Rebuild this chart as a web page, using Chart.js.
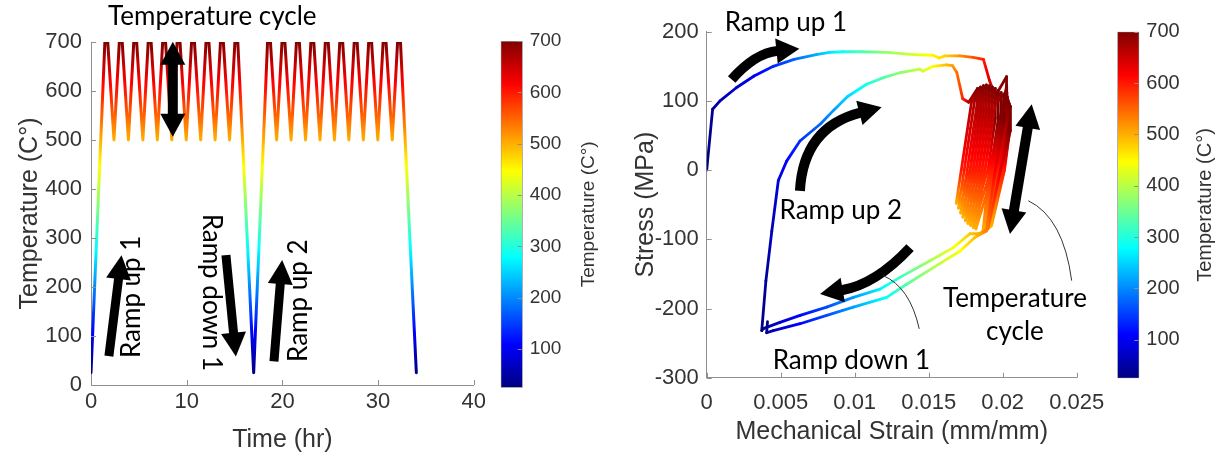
<!DOCTYPE html>
<html><head><meta charset="utf-8">
<script src="https://cdn.jsdelivr.net/npm/chart.js@4.4.1/dist/chart.umd.min.js"></script>
<style>
html,body{margin:0;padding:0;background:#fff;}
#wrap{position:relative;width:1221px;height:457px;overflow:hidden;background:#fff;}
canvas{position:absolute;top:0;}
</style></head><body>
<div id="wrap">
<canvas id="cL" width="490" height="457" style="left:0px"></canvas>
<canvas id="cLC" width="120" height="457" style="left:490px"></canvas>
<canvas id="cR" width="520" height="457" style="left:600px"></canvas>
<canvas id="cRC" width="121" height="457" style="left:1100px"></canvas>
</div>
<script>
// ---------------- data ----------------
const TMIN = 25, TMAX = 700;
// left panel
const timeTicks = [0, 10, 20, 30, 40];
const tempTicks = [0, 100, 200, 300, 400, 500, 600, 700];
const colorbarTicks = [100, 200, 300, 400, 500, 600, 700];
const tempTime = [0, 1.45, 1.75, 2.40, 2.96, 3.26, 3.91, 4.47, 4.77, 5.42, 5.98, 6.28, 6.93, 7.49, 7.79, 8.44,
  9.00, 9.30, 9.95, 10.51, 10.81, 11.46, 12.02, 12.32, 12.97, 13.53, 13.83, 14.48, 15.04, 15.34, 17.00,
  18.45, 18.75, 19.40, 19.96, 20.26, 20.91, 21.47, 21.77, 22.42, 22.98, 23.28, 23.93, 24.49, 24.79, 25.44,
  26.00, 26.30, 26.95, 27.51, 27.81, 28.46, 29.02, 29.32, 29.97, 30.53, 30.83, 31.48, 32.04, 32.34, 34.00];
const tempValue = [25, 700, 700, 500, 700, 700, 500, 700, 700, 500, 700, 700, 500, 700, 700, 500,
  700, 700, 500, 700, 700, 500, 700, 700, 500, 700, 700, 500, 700, 700, 25,
  700, 700, 500, 700, 700, 500, 700, 700, 500, 700, 700, 500, 700, 700, 500,
  700, 700, 500, 700, 700, 500, 700, 700, 500, 700, 700, 500, 700, 700, 25];
// right panel: [strain, stress, temperature]
const strainTicks = [0, 0.005, 0.01, 0.015, 0.02, 0.025];
const strainTickLabels = ['0', '0.005', '0.01', '0.015', '0.02', '0.025'];
const stressTicks = [-300, -200, -100, 0, 100, 200];
const rampUp1 = [[0,0,25],[0.0004,88,40],[0.0009,100,55],[0.0020,119,75],[0.0032,136,100],[0.0045,150,135],
  [0.0059,160,175],[0.0074,167,225],[0.0083,170,260],[0.0092,171,290],[0.0105,171,330],[0.0122,170,380],
  [0.0140,167,420],[0.0153,166,455],[0.0157,162,465],[0.0161,165,475],[0.0171,165,520],[0.0180,163,560],
  [0.0187,160,595],[0.0191,130,640],[0.0195,107,675]];
const cycles1 = [
  [0.02026,135,700],[0.02026,100,700],[0.01960,0,600],[0.01867,-88,500],
  [0.01910,0,600],[0.02027,122,700],[0.02027,87,700],[0.01970,0,600],[0.01878,-87,500],
  [0.01918,0,600],[0.02028,112,700],[0.02028,77,700],[0.01978,0,600],[0.01887,-86,500],
  [0.01925,0,600],[0.02031,106,700],[0.02031,71,700],[0.01985,0,600],[0.01894,-85,500],
  [0.01932,0,600],[0.02035,102,700],[0.02035,67,700],[0.01992,0,600],[0.01902,-84,500],
  [0.01938,0,600],[0.02039,99,700],[0.02039,64,700],[0.01998,0,600],[0.01909,-83,500],
  [0.01943,0,600],[0.02042,97,700],[0.02042,62,700],[0.02003,0,600],[0.01914,-82,500],
  [0.01948,0,600],[0.02046,95,700],[0.02046,60,700],[0.02008,0,600],[0.01920,-81,500],
  [0.01952,0,600],[0.02048,93,700],[0.02048,58,700],[0.02012,0,600],[0.01925,-80,500],
  [0.01956,0,600],[0.02052,92,700],[0.02052,57,700]];
const rampDown1 = [[0.01985,0,630],[0.01900,-85,540],[0.01840,-92,505],[0.01779,-92,485],[0.01666,-112,440],
  [0.01509,-131,390],[0.01306,-155,320],[0.01171,-172,270],[0.00991,-184,210],[0.00811,-198,160],
  [0.00631,-210,110],[0.00495,-220,75],[0.00382,-229,40],[0.00372,-232,30]];
const rampUp2 = [[0.00400,-160,45],[0.00440,-88,65],[0.00484,-15,90],[0.0054,13,110],[0.0063,42,140],
  [0.0077,67,180],[0.0086,87,215],[0.0095,106,250],[0.0108,124,295],[0.0120,134,335],[0.0131,141,370],
  [0.0144,146,410],[0.0146,143,415],[0.0153,150,450],[0.0162,152,490],[0.0166,151,510],[0.0169,141,540],
  [0.0173,103,590]];
const cycles2 = [
  [0.0177,98,670],[0.0183,118,700],[0.0183,78,700],[0.01780,0,600],[0.01686,-48,500],
  [0.0172,0,600],[0.0179,99,670],[0.0185,120,700],[0.0185,80,700],[0.01800,0,600],[0.01701,-55,500],
  [0.0174,0,600],[0.0181,100,670],[0.0187,122,700],[0.0187,80,700],[0.01820,0,600],[0.01716,-62,500],
  [0.0176,0,600],[0.0183,100,670],[0.0189,123,700],[0.0189,80,700],[0.01840,0,600],[0.01731,-68,500],
  [0.0178,0,600],[0.0185,100,670],[0.0191,122,700],[0.0191,78,700],[0.01860,0,600],[0.01748,-73,500],
  [0.0180,0,600],[0.0187,99,670],[0.0193,120,700],[0.0193,76,700],[0.01880,0,600],[0.01765,-77,500],
  [0.0182,0,600],[0.0189,98,670],[0.0195,118,700],[0.0195,75,700],[0.01900,0,600],[0.01783,-80,500],
  [0.0184,0,600],[0.0191,97,670],[0.0197,115,700],[0.0197,74,700],[0.01920,0,600],[0.01801,-83,500],
  [0.0186,0,600],[0.0193,96,670],[0.0199,112,700],[0.0199,73,700],[0.01940,0,600],[0.01819,-85,500],
  [0.0188,0,600],[0.0195,95,670],[0.0201,110,700],[0.0201,72,700]];
const rampDown2 = [[0.01950,0,620],[0.01890,-88,530],[0.01813,-97,490],[0.01712,-117,445],[0.01531,-141,395],
  [0.01351,-165,335],[0.01216,-184,285],[0.00991,-198,215],[0.00811,-210,160],[0.00631,-222,110],
  [0.00450,-232,60],[0.00405,-235,40],[0.00411,-219,30]];

// ---------------- helpers ----------------
const AXIS = '#8f8f8f', TXT = '#333333';
const SANS = '"Liberation Sans", Arial, sans-serif';
const ANNO = 'Lato, "Open Sans", sans-serif';
const ANNO_SIZE = 26;
const JET_STOPS = [0, 0.125, 0.375, 0.625, 0.875, 1];
function clamp01(v){ return Math.max(0, Math.min(1, v)); }
function jetRGB(x){
  x = clamp01(x);
  const c = v => Math.round(255 * clamp01(v));
  return 'rgb(' + c(Math.min(4*x-1.5, -4*x+4.5)) + ',' + c(Math.min(4*x-0.5, -4*x+3.5)) + ',' + c(Math.min(4*x+0.5, -4*x+2.5)) + ')';
}
function norm(T){ return (T - TMIN) / (TMAX - TMIN); }
function jetGradient(ctx, x0, y0, x1, y1){
  const g = ctx.createLinearGradient(x0, y0, x1, y1);
  JET_STOPS.forEach(s => g.addColorStop(s, jetRGB(s)));
  return g;
}
function segGradient(temps){
  return c => {
    const p0 = c.p0, p1 = c.p1;
    const a0 = norm(temps[c.p0DataIndex]), a1 = norm(temps[c.p1DataIndex]);
    if (Math.abs(p1.x - p0.x) < 0.01 && Math.abs(p1.y - p0.y) < 0.01) return jetRGB(a0);
    const g = c.chart.ctx.createLinearGradient(p0.x, p0.y, p1.x, p1.y);
    g.addColorStop(0, jetRGB(a0));
    if (a1 !== a0) JET_STOPS.forEach(s => { if ((s - a0) * (s - a1) < 0) g.addColorStop((s - a0) / (a1 - a0), jetRGB(s)); });
    g.addColorStop(1, jetRGB(a1));
    return g;
  };
}
const innerTicks = {
  id: 'innerTicks',
  afterDraw(chart, args, opts){
    const ctx = chart.ctx; const len = opts.len || 5;
    ctx.save(); ctx.strokeStyle = opts.color || AXIS; ctx.lineWidth = 1;
    Object.values(chart.scales).forEach(s => {
      if (!s.options.display) return;
      s.ticks.forEach(t => {
        ctx.beginPath();
        if (s.isHorizontal()) {
          const x = Math.round(s.getPixelForValue(t.value)) + 0.5;
          ctx.moveTo(x, s.top); ctx.lineTo(x, s.top - len);
        } else {
          const y = Math.round(s.getPixelForValue(t.value)) + 0.5;
          if (s.position === 'left') { ctx.moveTo(s.right, y); ctx.lineTo(s.right + len, y); }
          else { ctx.moveTo(s.left - 1, y); ctx.lineTo(s.left - 1 - len, y); }
        }
        ctx.stroke();
      });
    });
    ctx.restore();
  }
};
function drawText(ctx, text, x, y, rot){
  ctx.save(); ctx.translate(x, y); ctx.rotate(rot || 0);
  ctx.font = ANNO_SIZE + 'px ' + ANNO; ctx.fillStyle = '#000';
  ctx.textAlign = 'center'; ctx.textBaseline = 'middle';
  ctx.fillText(text, 0, 0); ctx.restore();
}
function head(ctx, tip, ux, uy, L, W){
  const bx = tip[0] - ux*L, by = tip[1] - uy*L;
  ctx.beginPath(); ctx.moveTo(tip[0], tip[1]);
  ctx.lineTo(bx - uy*W/2, by + ux*W/2); ctx.lineTo(bx + uy*W/2, by - ux*W/2);
  ctx.closePath(); ctx.fill();
}
function unit(a, b){ const dx = b[0]-a[0], dy = b[1]-a[1], n = Math.hypot(dx, dy); return [dx/n, dy/n]; }
function arrow(ctx, tail, tip, ctrl, o){
  ctx.save(); ctx.fillStyle = '#000'; ctx.strokeStyle = '#000'; ctx.lineWidth = o.shaft; ctx.lineCap = 'butt';
  const ue = unit(ctrl || tail, tip);
  const endBase = [tip[0] - ue[0]*(o.L-1), tip[1] - ue[1]*(o.L-1)];
  let start = tail;
  if (o.double) {
    const us = unit(ctrl || tip, tail);
    start = [tail[0] - us[0]*(o.L-1), tail[1] - us[1]*(o.L-1)];
    head(ctx, tail, us[0], us[1], o.L, o.W);
  }
  ctx.beginPath(); ctx.moveTo(start[0], start[1]);
  if (ctrl) ctx.quadraticCurveTo(ctrl[0], ctrl[1], endBase[0], endBase[1]); else ctx.lineTo(endBase[0], endBase[1]);
  ctx.stroke();
  head(ctx, tip, ue[0], ue[1], o.L, o.W);
  ctx.restore();
}
function leader(ctx, a, c, b){
  ctx.save(); ctx.strokeStyle = '#333'; ctx.lineWidth = 1;
  ctx.beginPath(); ctx.moveTo(a[0], a[1]); ctx.quadraticCurveTo(c[0], c[1], b[0], b[1]); ctx.stroke(); ctx.restore();
}
function P(chart, x, y){ return [chart.scales.x.getPixelForValue(x), chart.scales.y.getPixelForValue(y)]; }

// ---------------- annotations ----------------
const leftNotes = {
  id: 'leftNotes',
  afterDraw(chart){
    const ctx = chart.ctx; const p = (x, y) => P(chart, x, y);
    const A = {shaft: 9, L: 24, W: 25};
    let q = p(12.68, 752); drawText(ctx, 'Temperature cycle', q[0], q[1], 0);
    arrow(ctx, p(8.55, 506.7), p(8.55, 700.6), null, {shaft: 10, L: 23, W: 25, double: true});
    arrow(ctx, p(1.87, 59), p(3.19, 265), null, A);
    q = p(4.23, 180); drawText(ctx, 'Ramp up 1', q[0], q[1], -Math.PI/2);
    arrow(ctx, p(14.1, 265), p(15.14, 58), null, A);
    q = p(12.55, 189); drawText(ctx, 'Ramp down 1', q[0], q[1], Math.PI/2);
    arrow(ctx, p(19.12, 48), p(19.98, 255), null, A);
    q = p(21.71, 172); drawText(ctx, 'Ramp up 2', q[0], q[1], -Math.PI/2);
  }
};
const rightNotes = {
  id: 'rightNotes',
  afterDraw(chart){
    const ctx = chart.ctx; const p = (x, y) => P(chart, x, y);
    const A = {shaft: 10, L: 23, W: 25};
    let q = p(0.00535, 213); drawText(ctx, 'Ramp up 1', q[0], q[1], 0);
    arrow(ctx, p(0.00169, 131), p(0.00626, 175.5), p(0.00326, 169), A);
    q = p(0.00906, -59); drawText(ctx, 'Ramp up 2', q[0], q[1], 0);
    arrow(ctx, p(0.0063, -30), p(0.01182, 91), p(0.00653, 61.5), A);
    arrow(ctx, p(0.01374, -112), p(0.00766, -179), p(0.01143, -165), A);
    q = p(0.00978, -275); drawText(ctx, 'Ramp down 1', q[0], q[1], 0);
    leader(ctx, p(0.01193, -152.5), p(0.01374, -169.4), p(0.01436, -229.4));
    q = p(0.02083, -186); drawText(ctx, 'Temperature', q[0], q[1], 0);
    q = p(0.02083, -234); drawText(ctx, 'cycle', q[0], q[1], 0);
    leader(ctx, p(0.02173, -44.3), p(0.02409, -68.4), p(0.02466, -159.7));
    arrow(ctx, p(0.02049, -92.4), p(0.02196, 95.2), null, {shaft: 10, L: 24, W: 25, double: true});
  }
};
const cbLabel = {
  id: 'cbLabel',
  afterDraw(chart, args, o){
    const ctx = chart.ctx; const a = chart.chartArea;
    ctx.save(); ctx.translate(o.x, (a.top + a.bottom)/2); ctx.rotate(-Math.PI/2);
    ctx.font = o.size + 'px ' + SANS; ctx.fillStyle = TXT; ctx.textAlign = 'center'; ctx.textBaseline = 'middle';
    ctx.fillText('Temperature (C°)', 0, 0); ctx.restore();
  }
};

function setTicks(arr){ return s => { s.ticks = arr.map(v => ({value: v})); }; }
function axis(opts){
  return Object.assign({
    type: 'linear',
    grid: {drawOnChartArea: false, drawTicks: false},
    border: {display: true, color: AXIS, width: 1},
  }, opts);
}

function build(){
  Chart.defaults.font.family = SANS;
  Chart.defaults.color = TXT;
  const common = {responsive: false, devicePixelRatio: 1, animation: false, events: [],
    plugins: {legend: {display: false}, tooltip: {enabled: false}}};

  // left main chart
  new Chart(document.getElementById('cL'), {
    type: 'scatter',
    data: {datasets: [{
      data: tempTime.map((t, i) => ({x: t, y: tempValue[i]})),
      showLine: true, pointRadius: 0, borderWidth: 3, borderJoinStyle: 'round', borderCapStyle: 'round',
      borderColor: c => { const ch = c.chart; if (!ch.chartArea) return '#000';
        const y = ch.scales.y; return jetGradient(ch.ctx, 0, y.getPixelForValue(TMIN), 0, y.getPixelForValue(TMAX)); }
    }]},
    options: Object.assign({}, common, {
      layout: {padding: {left: 0, top: 42, right: 14, bottom: 0}, autoPadding: false},
      scales: {
        x: axis({min: 0, max: 40, afterBuildTicks: setTicks(timeTicks), afterFit: s => { s.height = 72; },
          ticks: {font: {size: 22}, padding: 4, maxRotation: 0},
          title: {display: true, text: 'Time (hr)', font: {size: 25}, padding: {top: 0, bottom: 2}}}),
        y: axis({min: 0, max: 700, afterBuildTicks: setTicks(tempTicks), afterFit: s => { s.width = 91; },
          ticks: {font: {size: 22}, padding: 9},
          title: {display: true, text: 'Temperature (C°)', font: {size: 25}, padding: {top: 15, bottom: 0}}})
      }
    }),
    plugins: [innerTicks, leftNotes]
  });

  function colorbar(id, padL, top, bottom, axisW, tickSize, labelX, labelSize){
    return new Chart(document.getElementById(id), {
      type: 'bar',
      data: {labels: [''], datasets: [{data: [[TMIN, TMAX]], barPercentage: 1, categoryPercentage: 1,
        borderColor: AXIS, borderWidth: 1, borderSkipped: false,
        backgroundColor: c => { const ch = c.chart; if (!ch.chartArea) return '#000';
          const y = ch.scales.y; return jetGradient(ch.ctx, 0, y.getPixelForValue(TMIN), 0, y.getPixelForValue(TMAX)); }}]},
      options: Object.assign({}, common, {
        layout: {padding: {left: padL, top: top, right: 0, bottom: bottom}, autoPadding: false},
        plugins: {legend: {display: false}, tooltip: {enabled: false}, cbLabel: {x: labelX, size: labelSize}, innerTicks: {len: 4}},
        scales: {
          x: {display: false},
          y: {type: 'linear', position: 'right', min: TMIN, max: TMAX,
            afterBuildTicks: setTicks(colorbarTicks), afterFit: s => { s.width = axisW; },
            grid: {drawOnChartArea: false, drawTicks: false}, border: {display: false},
            ticks: {font: {size: tickSize}, padding: 7}}
        }
      }),
      plugins: [innerTicks, cbLabel]
    });
  }
  colorbar('cLC', 10.7, 41, 69.3, 87.3, 19, 98.3, 19);

  // right main chart
  const all = rampUp1.concat(cycles1, rampDown1, rampUp2, cycles2, rampDown2);
  const temps = all.map(r => r[2]);
  new Chart(document.getElementById('cR'), {
    type: 'scatter',
    data: {datasets: [{
      data: all.map(r => ({x: r[0], y: r[1]})),
      showLine: true, pointRadius: 0, borderWidth: 2.8, borderJoinStyle: 'round', borderCapStyle: 'round',
      borderColor: '#00f', segment: {borderColor: segGradient(temps)}
    }]},
    options: Object.assign({}, common, {
      layout: {padding: {left: 0, top: 31.7, right: 43.3, bottom: 0}, autoPadding: false},
      scales: {
        x: axis({min: 0, max: 0.025, afterBuildTicks: setTicks(strainTicks), afterFit: s => { s.height = 79.3; },
          ticks: {font: {size: 22}, padding: 12, maxRotation: 0, callback: (v, i) => strainTickLabels[i]},
          title: {display: true, text: 'Mechanical Strain (mm/mm)', font: {size: 25}, padding: {top: 0, bottom: 10}}}),
        y: axis({min: -300, max: 200, afterBuildTicks: setTicks(stressTicks), afterFit: s => { s.width = 106.7; },
          ticks: {font: {size: 22}, padding: 8},
          title: {display: true, text: 'Stress (MPa)', font: {size: 25}, padding: {top: 31, bottom: 0}}})
      }
    }),
    plugins: [innerTicks, rightNotes]
  });
  colorbar('cRC', 17.3, 31.7, 78.7, 81.7, 20, 105, 20);
}
Promise.all([document.fonts.load('26px Lato'), document.fonts.load('22px "Liberation Sans"')])
  .then(build, build);
</script>
</body></html>
